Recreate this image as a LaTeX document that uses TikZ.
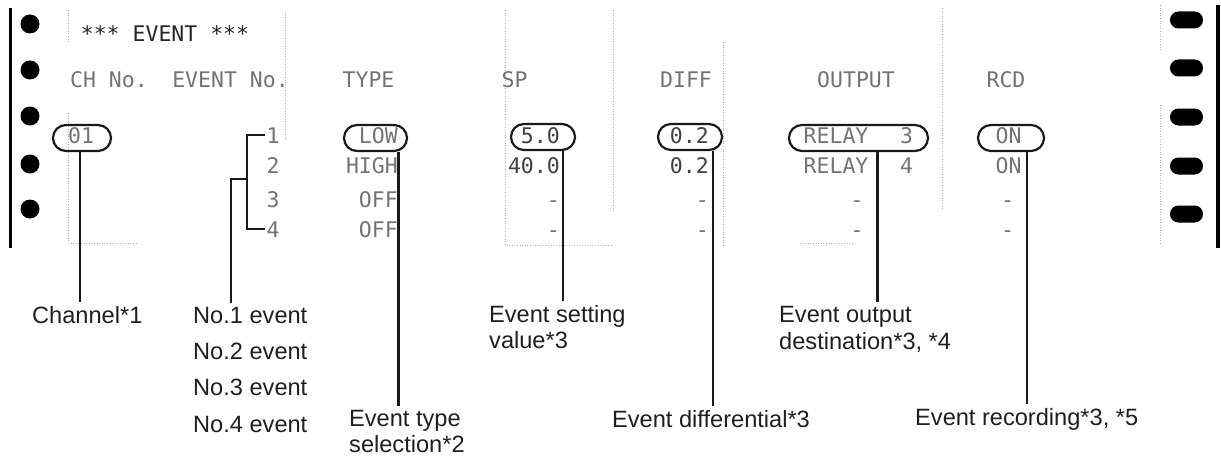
\documentclass[tikz,border=0pt]{standalone}
\usepackage{fontspec}
\setmainfont{Liberation Sans}
\newfontfamily\prt{DejaVu Sans Mono}
\begin{document}
\begin{tikzpicture}[x=1pt,y=-1pt,
  lbl/.style={anchor=base west, inner xsep=0pt, inner ysep=4pt, font=\fontsize{23.6}{26}\selectfont, text=black!88},
  prn/.style={inner sep=0pt, anchor=base, font=\prt\fontsize{21.5}{24}\selectfont, text=black!55},
  prnd/.style={prn, text=black!75},
  pill/.style={draw=black!90, line width=2.2pt, rounded corners=12.9pt, minimum height=26pt, inner sep=0pt},
  conn/.style={draw=black!90, line width=2.2pt},
  paper/.style={draw=black!30, line width=0.6pt, dash pattern=on 0.8pt off 1.8pt}]
\useasboundingbox (0,0) rectangle (1221,460);

% faint paper marks
\draw[paper] (68,10) -- (68,42);
\draw[paper] (68,113) -- (68,243) -- (137,243);
\draw[paper] (285,12) -- (285,140);
\draw[paper] (505,10) -- (505,245) -- (612,245);
\draw[paper] (613,10) -- (613,212);
\draw[paper] (723,42) -- (723,245);
\draw[paper] (942,8) -- (942,210);
\draw[paper] (1160,5) -- (1160,50);
\draw[paper] (1160,105) -- (1160,245);
\draw[paper] (800,243) -- (853,243);

% sprocket holes and edges
\fill[black] (8.5,8) rectangle (11.5,248);
\fill[black] (1216,5) rectangle (1220,248);
\foreach \yy in {24,70,116,164,209} \fill[black] (30,\yy) circle (9.5pt);
\foreach \yy in {20,68,117,166,214} \fill[black, rounded corners=8.4pt] (1170,\yy-8.5) rectangle (1203,\yy+8.5);

% printout text
\node[prnd, text=black!85] (ttl) at (165,42) {*** EVENT ***};
\node[prn] (hch) at (109,88) {CH No.};
\node[prn] (hev) at (230.5,88) {EVENT No.};
\node[prn] (hty) at (368.5,88) {TYPE};
\node[prn] (hsp) at (514.5,88) {SP};
\node[prn] (hdf) at (686,88) {DIFF};
\node[prn] (hou) at (856,88) {OUTPUT};
\node[prn] (hrc) at (1006,88) {RCD};

\node[prn] (ch) at (81,143) {01};
\node[prn] (ev1) at (273,143) {1};
\node[prn] (ev2) at (273,173) {2};
\node[prn] (ev3) at (273,207) {3};
\node[prn] (ev4) at (273,237) {4};

\node[prn, anchor=base east] (ty1t) at (398,143) {LOW};
\node[prn, anchor=base east] (ty2t) at (398,173) {HIGH};
\node[prn, anchor=base east] (ty3t) at (398,207) {OFF};
\node[prn, anchor=base east] (ty4t) at (398,237) {OFF};

\node[prnd, anchor=base east] (sp1t) at (560,143) {5.0};
\node[prnd, anchor=base east] (sp2t) at (560,173) {40.0};
\node[prn, anchor=base east] (sp3t) at (560,207) {-};
\node[prn, anchor=base east] (sp4t) at (560,237) {-};

\node[prnd, anchor=base east] (df1t) at (709,143) {0.2};
\node[prnd, anchor=base east] (df2t) at (709,173) {0.2};
\node[prn, anchor=base east] (df3t) at (709,207) {-};
\node[prn, anchor=base east] (df4t) at (709,237) {-};

\node[prn, anchor=base west] (ou1t) at (803.5,143) {RELAY};
\node[prn] (ou1n) at (906.5,143) {3};
\node[prn, anchor=base west] (ou2t) at (803.5,173) {RELAY};
\node[prn] (ou2n) at (906.5,173) {4};
\node[prn] (ou3t) at (857,207) {-};
\node[prn] (ou4t) at (857,237) {-};

\node[prn] (rc1t) at (1008.5,143) {ON};
\node[prn] (rc2t) at (1008.5,173) {ON};
\node[prn] (rc3t) at (1007.5,207) {-};
\node[prn] (rc4t) at (1007.5,237) {-};

% pills
\node[pill, minimum width=58pt] (chp) at (82,138) {};
\node[pill, minimum width=63pt] (tp) at (375.5,138) {};
\node[pill, minimum width=64pt] (spp) at (543,137) {};
\node[pill, minimum width=64pt] (dfp) at (690,137) {};
\node[pill, minimum width=139pt] (oup) at (858.5,138) {};
\node[pill, minimum width=66pt] (rcp) at (1011,138) {};

% labels
\node[lbl] (chl) at (32,323) {Channel*1};
\node[lbl] (n1) at (193,323) {No.1 event};
\node[lbl] (n2) at (193,359.5) {No.2 event};
\node[lbl] (n3) at (193,395.5) {No.3 event};
\node[lbl] (n4) at (193,432) {No.4 event};
\node[lbl] (ty1) at (349,426) {Event type};
\node[lbl] (ty2) at (349,452) {selection*2};
\node[lbl] (sv1) at (489,322) {Event setting};
\node[lbl] (sv2) at (489,348) {value*3};
\node[lbl] (df) at (612,427) {Event differential*3};
\node[lbl] (ou1) at (779,322) {Event output};
\node[lbl] (ou2) at (779,349) {destination*3, *4};
\node[lbl] (rc) at (915,425) {Event recording*3, *5};

% connectors
\coordinate (xch) at (80,0);
\coordinate (xty) at (398.5,0);
\coordinate (xsp) at (563,0);
\coordinate (xdf) at (713,0);
\coordinate (xou) at (877.5,0);
\coordinate (xrc) at (1027,0);
\draw[conn] (chp.south -| xch) -- (chl.north -| xch);
\draw[conn] (tp.south -| xty) -- (ty1.north -| xty);
\draw[conn] (spp.south -| xsp) -- (sv1.north -| xsp);
\draw[conn] (dfp.south -| xdf) -- (df.north -| xdf);
\draw[conn] (oup.south -| xou) -- (ou1.north -| xou);
\draw[conn] (rcp.south -| xrc) -- (rc.north -| xrc);

\coordinate (bm) at (247,179);
\coordinate (bk) at (231,179);
\draw[conn] ([xshift=-1pt]ev1.west) -| (bm) |- ([xshift=-1pt]ev4.west);
\draw[conn] (bm) -- (bk) -- (bk |- n1.north);
\end{tikzpicture}
\end{document}
